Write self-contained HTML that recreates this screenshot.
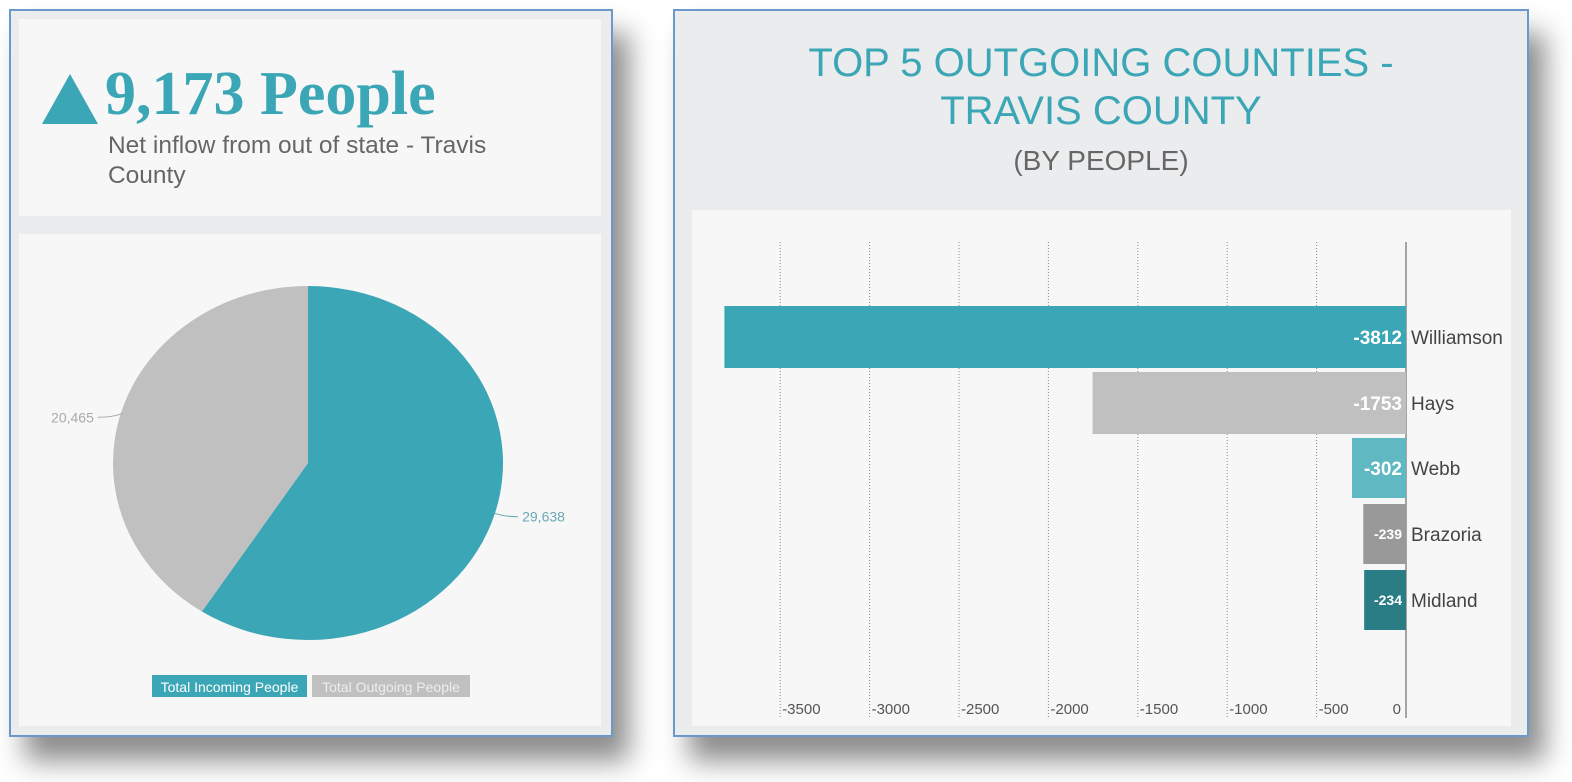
<!DOCTYPE html>
<html><head><meta charset="utf-8"><style>
body{margin:0;width:1572px;height:782px;background:#fff;position:relative;overflow:hidden;font-family:"Liberation Sans",sans-serif}
.panel{position:absolute;border:2px solid #6b99cc;background:#ebeced;box-shadow:16px 24px 26px rgba(0,0,0,0.45)}
.card{position:absolute;background:#f7f7f7}
</style></head><body>
<div class="panel" style="left:9px;top:9px;width:600px;height:724px">
 <div class="card" style="left:8px;top:8px;width:582px;height:197px">
  <div style="position:absolute;left:23px;top:55px;width:0;height:0;border-left:28px solid transparent;border-right:28px solid transparent;border-bottom:50px solid #3ba6b5"></div>
  <div style="position:absolute;left:86px;top:43px;font-family:'Liberation Serif',serif;font-weight:bold;font-size:62px;color:#3ba6b5;line-height:64px">9,173 People</div>
  <div style="position:absolute;left:89px;top:112px;font-size:24px;color:#666;line-height:30px;width:430px;transform:scaleX(1.02);transform-origin:left">Net inflow from out of state - Travis County</div>
 </div>
 <div class="card" style="left:8px;top:223px;width:582px;height:492px"></div>
</div>
<svg width="620" height="782" style="position:absolute;left:0;top:0" id="pie"></svg>
<div class="panel" style="left:673px;top:9px;width:852px;height:724px">
 <div style="position:absolute;left:0;width:852px;top:28px;text-align:center;font-size:40px;color:#3ba6b5;line-height:48px">TOP 5 OUTGOING COUNTIES -<br>TRAVIS COUNTY</div>
 <div style="position:absolute;left:0;width:852px;top:134px;text-align:center;font-size:28px;color:#666">(BY PEOPLE)</div>
 <div class="card" style="left:17px;top:199px;width:819px;height:516px"></div>
</div>
<svg width="1572" height="782" style="position:absolute;left:0;top:0" id="bars"></svg>
<script>
const pieLabels=["Total Incoming People","Total Outgoing People"];
const pieValues=[29638,20465];
const pieText=["29,638","20,465"];
const pieColors=["#3ba6b5","#c0c0c0"];
const counties=["Williamson","Hays","Webb","Brazoria","Midland"];
const values=[-3812,-1753,-302,-239,-234];
const valueText=["-3812","-1753","-302","-239","-234"];
const ticks=[-3500,-3000,-2500,-2000,-1500,-1000,-500,0];
const barColors=["#3ba6b5","#c0c0c0","#5fb8c2","#999999","#2a7c85"];
const NS="http://www.w3.org/2000/svg";
function mk(svg,t,a,txt){const e=document.createElementNS(NS,t);for(const k in a)e.setAttribute(k,a[k]);if(txt!=null)e.textContent=txt;svg.appendChild(e);return e;}
const ps=document.getElementById('pie');
const cx=308,cy=463,rx=195,ry=177;
const tot=pieValues.reduce((a,b)=>a+b,0);
let a0=0;
pieValues.forEach((v,i)=>{
 const a1=a0+v/tot*2*Math.PI;
 const x0=cx+rx*Math.sin(a0),y0=cy-ry*Math.cos(a0),x1=cx+rx*Math.sin(a1),y1=cy-ry*Math.cos(a1);
 const p=mk(ps,'path',{d:`M${cx},${cy}L${x0},${y0}A${rx},${ry} 0 ${a1-a0>Math.PI?1:0} 1 ${x1},${y1}Z`,fill:pieColors[i]});
 
 
 const am=(a0+a1)/2, right=Math.sin(am)>0;
 const ax=cx+rx*Math.sin(am)*0.99, ay=cy-ry*Math.cos(am)*0.99;
 const ex=ax+(right?25:-25);
 const l=mk(ps,'path',{d:`M${ax},${ay}Q${ax+(right?10:-10)},${ay+4} ${ex},${ay+4}`,stroke:right?'#6aa9b3':'#aaa',fill:'none'});
 
 
 const t=mk(ps,'text',{x:ex+(right?4:-4),y:ay+9,'text-anchor':right?'start':'end','font-size':14,fill:right?'#6aa9b3':'#aaa','font-family':'Liberation Sans Narrow,Liberation Sans,sans-serif'},pieText[i]);
 
 
 a0=a1;
});
let lx=152;
pieLabels.forEach((s,i)=>{
 const w=i?158:155;
 const r=mk(ps,'rect',{x:lx,y:675,width:w,height:22,fill:pieColors[i]});
 
 
 const t=mk(ps,'text',{x:lx+w/2,y:692,'text-anchor':'middle','font-size':14,fill:i?'#eee':'#fff','font-family':'Liberation Sans Narrow,Liberation Sans,sans-serif'},s);
 
 
 lx+=w+5;
});
const bs=document.getElementById('bars');
const x0p=1406, pxPer=89.4/500;
const X=v=>x0p+v*pxPer;
const Y=i=>306+i*66;
ticks.forEach(t=>{
 const x=X(t);
 if(t!==0){const g=mk(bs,'line',{x1:x,y1:242,x2:x,y2:718,stroke:'#888','stroke-dasharray':'1,2'});
 
 }
 const l=mk(bs,'text',{x:t===0?x-5:x+2,y:714,'text-anchor':t===0?'end':'start','font-size':15,fill:'#555','font-family':'Liberation Sans Narrow,Liberation Sans,sans-serif'},String(t));
 
 
});
const ax=mk(bs,'line',{x1:x0p,y1:242,x2:x0p,y2:718,stroke:'#888','stroke-width':1.5});


values.forEach((v,i)=>{
 const y=Y(i),h=i<2?62:60;
 const r=mk(bs,'rect',{x:X(v),y:y,width:x0p-X(v),height:h,fill:barColors[i]});
 
 
 const fs=i>=3?14:19;
 const t=mk(bs,'text',{x:x0p-4,y:y+h/2+fs*0.36,'text-anchor':'end','font-size':fs,'font-weight':'bold',fill:'#fff','font-family':'Liberation Sans Narrow,Liberation Sans,sans-serif'},valueText[i]);
 
 
 const c=mk(bs,'text',{x:x0p+5,y:y+h/2+7,'font-size':19,fill:'#444','font-family':'Liberation Sans Narrow,Liberation Sans,sans-serif'},counties[i]);
 
 
});
</script>
</body></html>
